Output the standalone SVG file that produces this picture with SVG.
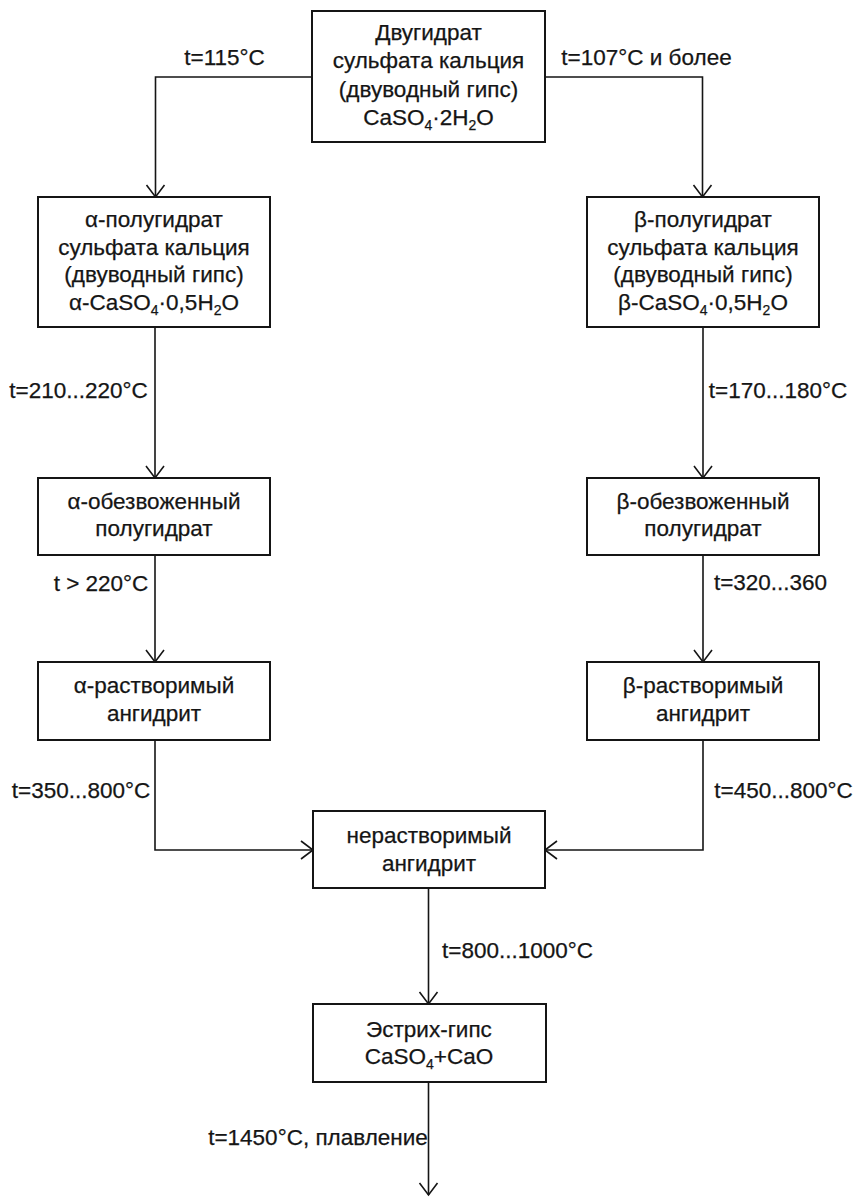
<svg xmlns="http://www.w3.org/2000/svg" width="856" height="1197" viewBox="0 0 856 1197">
<style>
  .box { fill: #fff; stroke: #151515; stroke-width: 2; }
  .t { font-family: "Liberation Sans", Arial, sans-serif; font-size: 22.5px; fill: #151515; stroke: #151515; stroke-width: 0.25; text-anchor: middle; }
  .sub { font-size: 14px; }
  .conn { fill: none; stroke: #151515; stroke-width: 1.6; }
</style>
<defs>
  <marker id="arr" markerUnits="userSpaceOnUse" viewBox="0 0 30 30" markerWidth="30" markerHeight="30" refX="15" refY="15" orient="auto">
    <path d="M3,6 L15,15 L3,24" fill="none" stroke="#151515" stroke-width="1.6"/>
  </marker>
</defs>
<rect width="856" height="1197" fill="#fff"/>

<g id="connectors">
  <path class="conn" d="M312,77 H155.5 V197" marker-end="url(#arr)"/>
  <path class="conn" d="M545,77 H702.5 V197" marker-end="url(#arr)"/>
  <path class="conn" d="M155,327 V478" marker-end="url(#arr)"/>
  <path class="conn" d="M703,327 V478" marker-end="url(#arr)"/>
  <path class="conn" d="M155,555 V662" marker-end="url(#arr)"/>
  <path class="conn" d="M703,555 V662" marker-end="url(#arr)"/>
  <path class="conn" d="M155,740 V850 H313" marker-end="url(#arr)"/>
  <path class="conn" d="M703,740 V850 H545" marker-end="url(#arr)"/>
  <path class="conn" d="M428.5,888 V1004" marker-end="url(#arr)"/>
  <path class="conn" d="M428.5,1082 V1195" marker-end="url(#arr)"/>
</g>

<g id="labels">
  <text class="t" x="224.5" y="65">t=115°C</text>
  <text class="t" x="646.5" y="65">t=107°C и более</text>
  <text class="t" x="78.5" y="398">t=210...220°C</text>
  <text class="t" x="778" y="398">t=170...180°C</text>
  <text class="t" x="101" y="591">t &gt; 220°C</text>
  <text class="t" x="770.5" y="590">t=320...360</text>
  <text class="t" x="81" y="798">t=350...800°C</text>
  <text class="t" x="783.5" y="798">t=450...800°C</text>
  <text class="t" x="517.5" y="958">t=800...1000°C</text>
  <text class="t" x="318" y="1145">t=1450°C, плавление</text>
</g>

<g id="node-dihydrate">
  <rect class="box" x="312" y="11" width="233" height="131"/>
  <text class="t" x="428.5" y="39.5">Двугидрат</text>
  <text class="t" x="428.5" y="68">сульфата кальция</text>
  <text class="t" x="428.5" y="96.5">(двуводный гипс)</text>
  <text class="t" x="428.5" y="125">CaSO<tspan class="sub" dy="5">4</tspan><tspan dy="-5">·2H</tspan><tspan class="sub" dy="5">2</tspan><tspan dy="-5">O</tspan></text>
</g>

<g id="node-alpha-hemihydrate">
  <rect class="box" x="38" y="197" width="232" height="130"/>
  <text class="t" x="154" y="227">α-полугидрат</text>
  <text class="t" x="154" y="254.5">сульфата кальция</text>
  <text class="t" x="154" y="282">(двуводный гипс)</text>
  <text class="t" x="154" y="309.5">α-CaSO<tspan class="sub" dy="5">4</tspan><tspan dy="-5">·0,5H</tspan><tspan class="sub" dy="5">2</tspan><tspan dy="-5">O</tspan></text>
</g>

<g id="node-beta-hemihydrate">
  <rect class="box" x="587" y="197" width="232" height="130"/>
  <text class="t" x="703" y="227">β-полугидрат</text>
  <text class="t" x="703" y="254.5">сульфата кальция</text>
  <text class="t" x="703" y="282">(двуводный гипс)</text>
  <text class="t" x="703" y="309.5">β-CaSO<tspan class="sub" dy="5">4</tspan><tspan dy="-5">·0,5H</tspan><tspan class="sub" dy="5">2</tspan><tspan dy="-5">O</tspan></text>
</g>

<g id="node-alpha-dehydrated">
  <rect class="box" x="38" y="478" width="232" height="77"/>
  <text class="t" x="154" y="508.5">α-обезвоженный</text>
  <text class="t" x="154" y="536">полугидрат</text>
</g>

<g id="node-beta-dehydrated">
  <rect class="box" x="587" y="478" width="232" height="77"/>
  <text class="t" x="703" y="508.5">β-обезвоженный</text>
  <text class="t" x="703" y="536">полугидрат</text>
</g>

<g id="node-alpha-soluble">
  <rect class="box" x="38" y="662" width="232" height="78"/>
  <text class="t" x="154" y="693">α-растворимый</text>
  <text class="t" x="154" y="721">ангидрит</text>
</g>

<g id="node-beta-soluble">
  <rect class="box" x="587" y="662" width="232" height="78"/>
  <text class="t" x="703" y="693">β-растворимый</text>
  <text class="t" x="703" y="721">ангидрит</text>
</g>

<g id="node-insoluble">
  <rect class="box" x="313" y="811" width="232" height="77"/>
  <text class="t" x="429" y="843">нерастворимый</text>
  <text class="t" x="429" y="871">ангидрит</text>
</g>

<g id="node-estrich">
  <rect class="box" x="313" y="1004" width="233" height="78"/>
  <text class="t" x="429" y="1037">Эстрих-гипс</text>
  <text class="t" x="429" y="1064">CaSO<tspan class="sub" dy="5">4</tspan><tspan dy="-5">+CaO</tspan></text>
</g>
</svg>
